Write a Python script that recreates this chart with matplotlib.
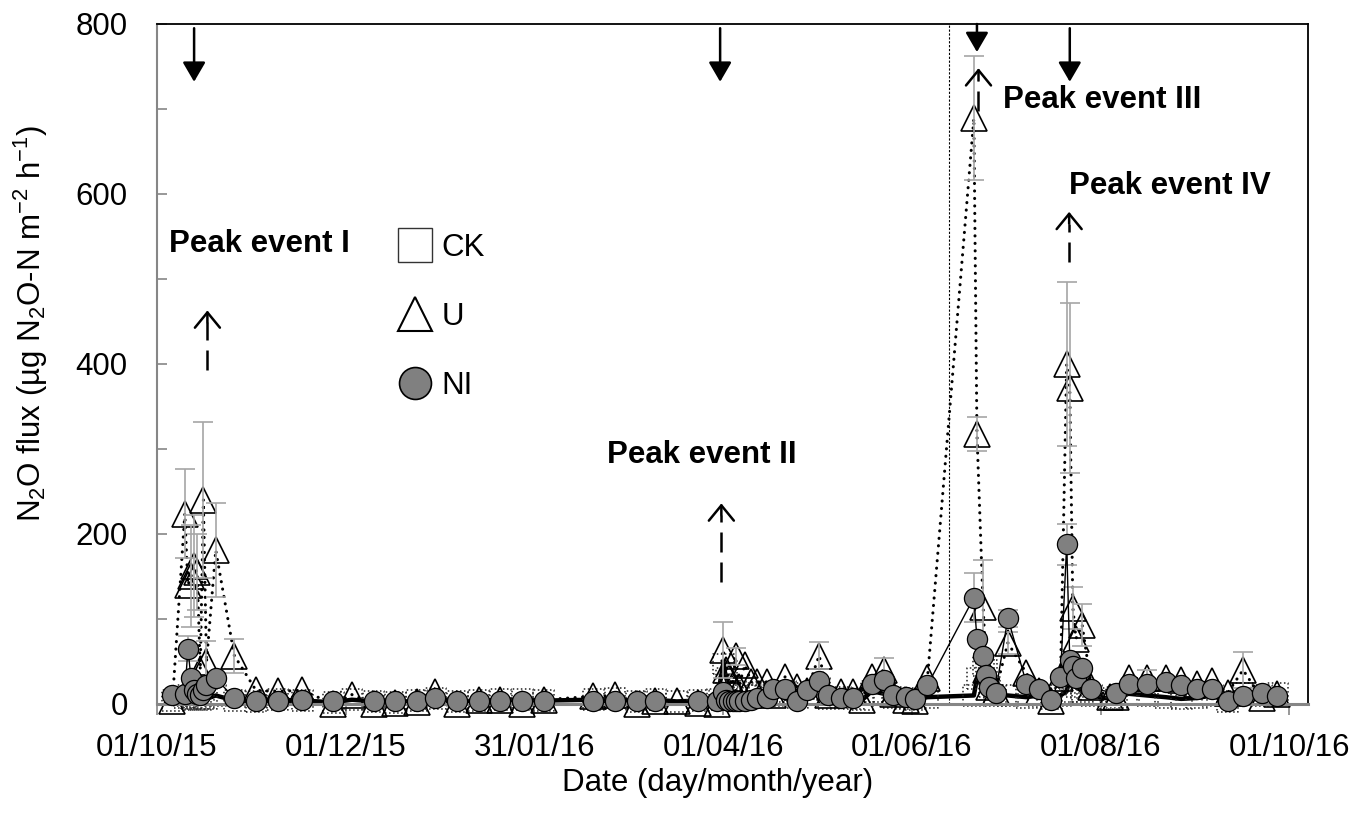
"""N2O flux time course for CK, U and NI plots, Oct 2015 - Oct 2016."""
import numpy as np
import pandas as pd
import matplotlib
matplotlib.use("Agg")
import matplotlib.pyplot as plt
import matplotlib.dates as mdates
from matplotlib.lines import Line2D
from matplotlib.ticker import MultipleLocator

plt.rcParams["font.family"] = ["Liberation Sans", "DejaVu Sans"]
plt.rcParams["mathtext.fontset"] = "custom"
plt.rcParams["mathtext.rm"] = "Liberation Sans"
plt.rcParams["mathtext.it"] = "Liberation Sans:italic"
plt.rcParams["mathtext.bf"] = "Liberation Sans:bold"

START = pd.Timestamp("2015-10-01")
nan = np.nan

# sampling days, counted from 1 Oct 2015
sample_day = [5, 9, 10, 11, 12, 13, 14, 15, 16, 19, 25, 32, 39, 47, 57, 63,
              70, 77, 84, 90, 97, 104, 111, 118, 125, 141, 148, 155, 161, 168,
              175, 181, 183, 184, 185, 186, 187, 188, 190, 192, 194, 197, 199,
              203, 207, 210, 214, 217, 221, 225, 228, 231, 235, 238, 242, 245,
              249, 264, 265, 267, 268, 269, 271, 275, 281, 285, 289, 292, 294,
              295, 296, 297, 299, 302, 308, 310, 314, 320, 326, 331, 336, 341,
              346, 351, 357, 362]

# fluxes, ug N2O-N m-2 h-1
ck = [4, 8, 10, 6, 5, 6, 5, 7, 6, 10, 4, 3, 5, 4, 2, 5,
      3, 2, 4, 6, 3, 4, 5, 5, 4, 5, 6, 3, 5, 3,
      4, 5, 47, 30, 20, 12, 15, 8, 10, 12, 10, 14, 10,
      15, 8, 12, 18, 6, 8, 6, 5, 15, 12, 8, 6, 5,
      8, 10, 30, 45, 40, 20, 10, 10, 8, 10, 6, 10, 15,
      30, 25, 20, 15, 10, 6, 8, 12, 10, 8, 6, 7, 10,
      3, 12, 10, 12]
u = [3, 224, 140, 150, 162, 155, 40, 240, 49, 181, 57, 16, 15, 16, 0, 11,
     0, 1, 2, 14, 0, 5, 5, 0, 5, 9, 10, 0, 3, 3,
     1, 0, 64, 40, 30, 22, 56, 20, 46, 26, 26, 26, 10,
     32, 20, 15, 57, 10, 14, 14, 5, 32, 40, 12, 5, 3,
     30, 689, 318, 114, 40, 20, 15, 72, 36, 15, 3, 30, 400,
     372, 113, 77, 93, 20, 8, 8, 30, 30, 30, 28, 24, 27,
     13, 40, 7, 12]
ni = [11, 12, 65, 30, 16, 12, 10, 16, 22, 30, 7, 3, 4, 5, 3, nan,
      4, 4, 4, 7, 4, 3, 3, 3, 3, 4, 4, 3, 3, nan,
      3, 3, 14, 5, 4, 3, 3, 4, 3, 5, 7, 7, 18,
      18, 4, 16, 27, 11, 7, 7, nan, 24, 28, 11, 8, 6,
      22, 125, 77, 56, 34, 20, 13, 101, 24, 18, 5, 32, 188,
      52, 45, 31, 42, 18, nan, 13, 23, 23, 26, 22, 18, 18,
      4, 9, 13, 9]

# standard errors where they were large enough to show
u_err_day = [9, 11, 12, 13, 15, 16, 19, 25, 183, 187, 214, 235, 264, 265,
             267, 275, 294, 295, 296, 299, 320, 351]
u_err = [52, 60, 60, 45, 92, 25, 55, 20, 33, 10, 16, 14, 73, 20,
         55, 13, 96, 100, 25, 25, 10, 21]
ni_err_day = [10, 264, 275, 294]
ni_err = [15, 29, 10, 24]

# fertiliser applications and peak events
fert_day = [12, 182, 265, 295]
fert_top = [795, 795, 800, 795]
fert_tip = [732, 732, 767, 732]
peak_names = ["Peak event I", "Peak event II", "Peak event III", "Peak event IV"]
peak_arrow_day = [16.3, 182.4, 265.5, 294.8]
peak_arrow_from = [393, 143, 698, 520]
peak_arrow_to = [463, 236, 748, 579]
peak_text_day = [33, 176, 305.5, 327.5]
peak_text_val = [541, 293, 711, 609]
divider_day = 256

FS = 22.5
x0 = mdates.date2num(START)
x = x0 + np.asarray(sample_day, float)
ck = np.asarray(ck, float)
u = np.asarray(u, float)
ni = np.asarray(ni, float)

fig = plt.figure(figsize=(13.59, 8.13), dpi=100)
ax = fig.add_axes([0.1155, 0.1341, 0.8470, 0.8364])

# CK: thick line, dotted-edge squares
ax.plot(x, ck, "-", color="k", lw=3.2, solid_joinstyle="round", zorder=2.0)
ax.scatter(x, ck, marker="s", s=15 ** 2, facecolors="none",
           edgecolors="#222222", linewidths=1.1, linestyles=":",
           clip_on=False, zorder=2.1)

# U: dotted line, open triangles
ax.plot(x, u, color="k", lw=2.2, ls=(0, (0.05, 2.4)),
        dash_capstyle="round", zorder=2.2)
ax.plot(x, u, ls="none", marker="^", ms=19, mfc="none", mec="k",
        mew=1.2, clip_on=False, zorder=2.3)

# error bars
eb = dict(fmt="none", ecolor="#a6a6a6", elinewidth=1.2, capsize=7,
          capthick=1.2, zorder=2.5)
ue = x0 + np.asarray(u_err_day, float)
ax.errorbar(ue, [u[sample_day.index(d)] for d in u_err_day], yerr=u_err, **eb)
ne = x0 + np.asarray(ni_err_day, float)
ax.errorbar(ne, [ni[sample_day.index(d)] for d in ni_err_day], yerr=ni_err, **eb)

# NI: thin solid line, grey circles
ok = ~np.isnan(ni)
ax.plot(x[ok], ni[ok], "-", color="k", lw=1.0, zorder=2.6)
ax.plot(x[ok], ni[ok], ls="none", marker="o", ms=14.5, mfc="#808080",
        mec="k", mew=0.9, clip_on=False, zorder=2.7)

ax.axvline(x0 + divider_day, color="k", lw=0.8, ls=(0, (2, 1.5)), zorder=1.5)

# fertiliser arrows
for d, top, tip in zip(fert_day, fert_top, fert_tip):
    ax.annotate("", xy=(x0 + d, tip), xytext=(x0 + d, top),
                arrowprops=dict(arrowstyle="-|>,head_length=0.6,head_width=0.35",
                                lw=1.8, color="k", mutation_scale=20,
                                shrinkA=0, shrinkB=0), zorder=4)

# peak event arrows and labels
for name, d, a, b, td, tv in zip(peak_names, peak_arrow_day, peak_arrow_from,
                                 peak_arrow_to, peak_text_day, peak_text_val):
    ax.plot([x0 + d, x0 + d], [a, b - 14], color="k", lw=1.8,
            ls=(0, (8, 4)), zorder=4)
    ax.annotate("", xy=(x0 + d, b), xytext=(x0 + d, b - 14),
                arrowprops=dict(arrowstyle="->,head_length=0.55,head_width=0.45",
                                lw=1.8, color="k", mutation_scale=20,
                                shrinkA=0, shrinkB=0), zorder=4)
    ax.text(x0 + td, tv, name, fontsize=FS, fontweight="bold",
            ha="center", va="center", zorder=5)

# axes
ax.set_xlim(x0, x0 + 372)
ax.set_ylim(0, 800)
ax.set_xticks(x0 + np.arange(0, 367, 61))
ax.xaxis.set_major_formatter(mdates.DateFormatter("%d/%m/%y"))
ax.yaxis.set_major_locator(MultipleLocator(200))
ax.yaxis.set_minor_locator(MultipleLocator(100))
ax.tick_params(axis="y", which="both", direction="in", length=7, width=1.2,
               color="#868686", labelsize=FS, pad=21)
ax.tick_params(axis="x", direction="out", length=8, width=1.2,
               color="#868686", labelsize=FS, pad=13)
for side in ("left", "bottom"):
    ax.spines[side].set_color("#868686")
ax.spines["left"].set_linewidth(1.5)
ax.spines["bottom"].set_linewidth(2.2)
for side in ("top", "right"):
    ax.spines[side].set_color("k")
    ax.spines[side].set_linewidth(1.3)

ax.set_xlabel("Date (day/month/year)", fontsize=FS)
ax.xaxis.set_label_coords(0.487, -0.094)
ax.set_ylabel("N$_2$O flux (µg N$_2$O-N m$^{-2}$ h$^{-1}$)", fontsize=FS)
ax.yaxis.set_label_coords(-0.093, 0.56)

handles = [
    Line2D([], [], ls="none", marker="s", ms=24, mfc="white", mec="#333333", mew=1.0),
    Line2D([], [], ls="none", marker="^", ms=25, mfc="white", mec="k", mew=1.5),
    Line2D([], [], ls="none", marker="o", ms=23, mfc="#808080", mec="k", mew=1.2),
]
ax.legend(handles, ["CK", "U", "NI"], loc="upper left",
          bbox_to_anchor=(0.2094, 0.693), frameon=False, fontsize=FS,
          handlelength=1.1, handletextpad=0.3, labelspacing=1.25, borderpad=0,
          borderaxespad=0)

fig.savefig("out.png", dpi=100)
